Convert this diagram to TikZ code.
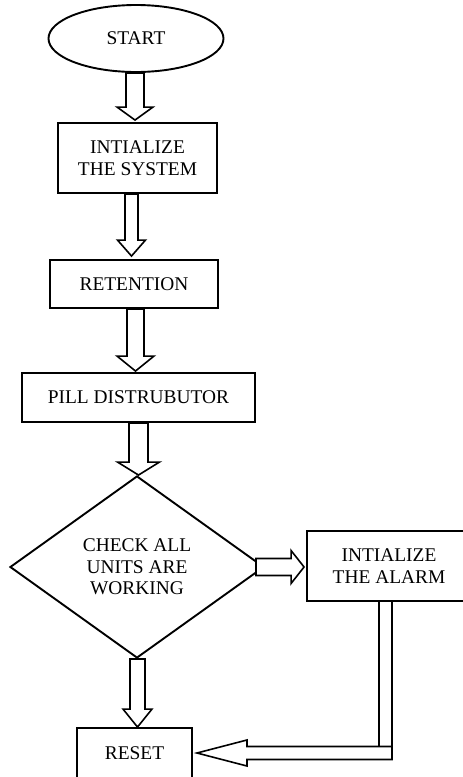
\documentclass[tikz,border=0pt]{standalone}
\usepackage{fontspec}
\setmainfont{Liberation Serif}
\usetikzlibrary{shapes.geometric,calc}

% hollow block arrow: #1 tail, #2 tip, #3 shaft half width, #4 head half width, #5 head length
\newcommand\hollowarrow[5]{%
  \coordinate (ha-base) at ($(#2)!#5!(#1)$);
  \draw[arrowline] ($(#1)!#3!90:(#2)$) -- ($(ha-base)!#3!-90:(#1)$)
    -- ($(ha-base)!#4!-90:(#1)$) -- (#2) -- ($(ha-base)!#4!90:(#1)$)
    -- ($(ha-base)!#3!90:(#1)$) -- ($(#1)!#3!-90:(#2)$) -- cycle;}

\tikzset{
  every node/.style={font=\fontsize{19.4}{21.5}\selectfont, align=center, inner sep=0pt},
  stepbox/.style={draw, line width=1.9pt, rectangle},
  startbox/.style={draw, line width=1.9pt, ellipse},
  decisionbox/.style={draw, line width=1.9pt, diamond},
  arrowline/.style={draw, fill=white, line width=1.6pt, line join=miter},
}

\begin{document}
\begin{tikzpicture}[x=1pt, y=-1pt]
  \useasboundingbox (0,0) rectangle (463,777);

  % flowchart blocks
  \node[startbox, minimum width=175pt, minimum height=67pt] (start) at (136,38.5) {START};
  \node[stepbox, minimum width=159pt, minimum height=70pt] (sys) at (137.5,158) {INTIALIZE\\THE SYSTEM};
  \node[stepbox, minimum width=168pt, minimum height=48pt] (ret) at (134,284) {RETENTION};
  \node[stepbox, minimum width=233pt, minimum height=49pt] (pill) at (138.5,397.5) {PILL DISTRUBUTOR};
  \node[decisionbox, minimum width=254pt, minimum height=182pt, aspect=1.4] (check) at (137,567) {CHECK ALL\\UNITS ARE\\WORKING};
  \node[stepbox, minimum width=164pt, minimum height=70pt] (alarm) at (389,566) {INTIALIZE\\THE ALARM};
  \node[stepbox, minimum width=115pt, minimum height=50pt] (reset) at (134.5,753) {RESET};

  % straight block arrows
  \coordinate (a1s) at ($(start.south)+(-1,0)$);
  \coordinate (a1t) at ($(a1s |- sys.north)+(0,-2)$);
  \hollowarrow{a1s}{a1t}{9pt}{18pt}{13pt}

  \coordinate (a2s) at ($(sys.south)+(-6,0)$);
  \coordinate (a2t) at ($(a2s |- ret.north)+(0,-3)$);
  \hollowarrow{a2s}{a2t}{6.5pt}{14pt}{16pt}

  \coordinate (a3s) at ($(ret.south)+(1.5,0)$);
  \coordinate (a3t) at ($(a3s |- pill.north)+(0,-1)$);
  \hollowarrow{a3s}{a3t}{8.5pt}{18.5pt}{15pt}

  \coordinate (a4s) at (pill.south);
  \coordinate (a4t) at (pill.south |- check.north);
  \hollowarrow{a4s}{a4t}{9.5pt}{21pt}{13pt}

  \coordinate (a5s) at ($(check.south)+(0.5,0)$);
  \coordinate (a5t) at (a5s |- reset.north);
  \hollowarrow{a5s}{a5t}{7.5pt}{14.5pt}{18pt}

  \coordinate (a6s) at ($(check.east)+(-9,0)$);
  \coordinate (a6t) at ($(a6s -| alarm.west)+(-2,0)$);
  \hollowarrow{a6s}{a6t}{8.5pt}{16.5pt}{13pt}

  % elbow arrow from the alarm down and back to reset
  \coordinate (ev) at ($(alarm.south)+(-3.5,0)$);
  \coordinate (elbow) at (ev |- reset.east);
  \draw[arrowline, fill=none] ($(ev)+(-6.5,0)$) -- ($(elbow)+(-6.5,-6.5)$);
  \draw[arrowline, fill=none] ($(ev)+(6.5,0)$) -- ($(elbow)+(6.5,-6.5)$);
  \coordinate (a7s) at ($(elbow)+(6.5,0)$);
  \coordinate (a7t) at ($(reset.east)+(4,0)$);
  \hollowarrow{a7s}{a7t}{6.5pt}{13pt}{50pt}
\end{tikzpicture}
\end{document}
